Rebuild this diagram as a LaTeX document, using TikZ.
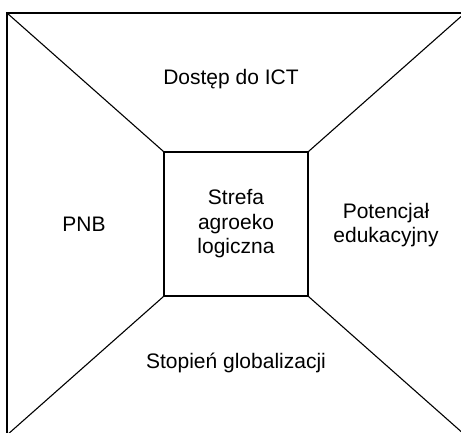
\documentclass[tikz,border=0pt]{standalone}
\usepackage{fontspec}
\setmainfont{Liberation Sans}
\begin{document}
\begin{tikzpicture}[x=1pt, y=-1pt, line width=1.1pt,
    label/.style={inner sep=0pt, align=center, font=\fontsize{21}{24.5}\selectfont}]
    \useasboundingbox (0,0) rectangle (461,432);
    \clip (0,0) rectangle (461,432);

    % Outer frame
    \coordinate (tl) at (7,13);
    \coordinate (tr) at (465,13);
    \coordinate (bl) at (7,435);
    \coordinate (br) at (465,435);
    \draw (tl) rectangle (br);

    % Inner square
    \node[draw, minimum size=144pt, inner sep=0pt, label] (zone) at (236,224) {Strefa\\agroeko\\logiczna};

    % Diagonals
    \draw (tl) -- (zone.north west);
    \draw (tr) -- (zone.north east);
    \draw (bl) -- (zone.south west);
    \draw (br) -- (zone.south east);

    % Side labels
    \node[label] (ict) at (231,79) {Dostęp do ICT};
    \node[label] (pnb) at (84,224) {PNB};
    \node[label] (edu) at (386,225) {Potencjał\\edukacyjny};
    \node[label] (glob) at (236,363) {Stopień globalizacji};
\end{tikzpicture}
\end{document}
